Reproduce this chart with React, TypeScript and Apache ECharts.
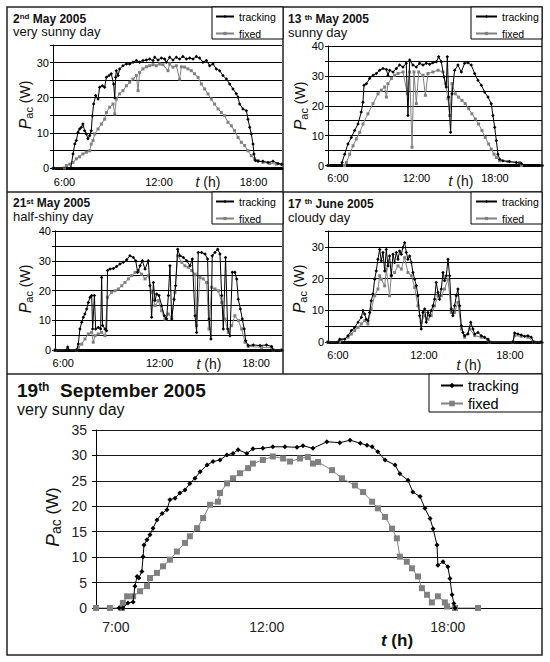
import React, { useEffect, useRef } from 'react';
import * as echarts from 'echarts';

const FONT = "'Liberation Sans', Arial, Helvetica, sans-serif";

const seriesNames = ['tracking', 'fixed'];
const smallHourTicks = [6, 12, 18];
const largeHourTicks = [7, 12, 18];

// 2nd May 2005 — very sunny day  [hour, W]
const may02Tracking: [number, number][] = [
  [5.3, 0], [6.4, 0], [6.54, 4.0], [6.65, 6.8], [6.75, 7.8], [6.86, 10.2], [6.96, 11.1], [7.07, 11.6], [7.17, 12.5],
  [7.28, 10.6], [7.39, 9.7], [7.49, 8.3], [7.6, 9.2], [7.7, 10.6], [7.77, 14.9], [7.85, 18.2], [7.98, 20.6], [8.13, 19.6],
  [8.23, 23.0], [8.4, 23.4], [8.55, 23.0], [8.66, 25.8], [8.83, 26.3], [8.97, 26.8], [9.12, 23.9], [9.19, 20.0], [9.25, 25.8],
  [9.29, 27.7], [9.4, 26.3], [9.5, 28.2], [9.71, 29.1], [9.93, 29.6], [10.14, 29.6], [10.35, 30.1], [10.56, 30.6], [10.77, 30.1],
  [10.98, 30.6], [11.2, 30.7], [11.41, 31.0], [11.62, 30.6], [11.73, 31.5], [11.94, 30.7], [12.15, 31.3], [12.36, 31.0],
  [12.47, 30.1], [12.68, 31.5], [12.89, 30.7], [13.1, 31.5], [13.31, 31.0], [13.52, 31.7], [13.74, 31.0], [13.95, 31.3],
  [14.16, 31.0], [14.37, 31.7], [14.58, 31.3], [14.79, 30.1], [15.01, 30.6], [15.22, 29.1], [15.43, 29.6], [15.64, 28.2],
  [15.85, 27.7], [16.06, 26.3], [16.28, 25.3], [16.49, 23.9], [16.7, 22.5], [16.91, 21.1], [17.02, 20.1], [17.12, 18.2],
  [17.33, 16.8], [17.55, 16.3], [17.65, 13.9], [17.76, 11.6], [17.86, 9.7], [17.97, 6.8], [18.03, 4.0], [18.12, 2.1],
  [18.29, 1.9], [18.6, 1.9], [18.92, 1.6], [19.24, 1.9], [19.56, 1.3], [19.8, 1.1],
];
const may02Fixed: [number, number][] = [
  [5.3, 0], [6.0, 0], [6.12, 0.7], [6.33, 1.1], [6.54, 1.6], [6.75, 2.6], [6.96, 3.2], [7.17, 4.0], [7.39, 4.5], [7.6, 4.9],
  [7.7, 6.8], [7.81, 7.8], [7.92, 9.7], [8.13, 11.1], [8.34, 12.5], [8.55, 13.9], [8.66, 15.8], [8.87, 17.3], [9.08, 18.2],
  [9.19, 15.4], [9.29, 19.6], [9.5, 21.1], [9.71, 22.0], [9.93, 23.4], [10.14, 24.4], [10.35, 25.3], [10.56, 26.3],
  [10.67, 22.0], [10.77, 27.2], [10.98, 28.2], [11.2, 28.8], [11.41, 29.1], [11.62, 29.4], [11.83, 29.1], [12.04, 29.6],
  [12.25, 29.4], [12.57, 27.7], [12.68, 29.6], [12.89, 28.7], [13.1, 29.1], [13.31, 25.3], [13.42, 28.8], [13.63, 28.7],
  [13.84, 28.2], [14.05, 27.7], [14.26, 26.8], [14.48, 25.8], [14.69, 23.9], [14.9, 22.5], [15.11, 21.1], [15.32, 19.6],
  [15.53, 18.2], [15.75, 16.8], [15.96, 15.8], [16.17, 14.9], [16.38, 13.0], [16.59, 12.0], [16.8, 10.6], [17.02, 8.7],
  [17.23, 7.3], [17.44, 6.4], [17.65, 4.9], [17.86, 3.5], [18.07, 2.6], [18.29, 2.1], [18.6, 1.6], [19.03, 1.3],
  [19.45, 1.1], [19.8, 0.9],
];

// 13th May 2005 — sunny day
const may13Tracking: [number, number][] = [
  [5.24, 0], [6.25, 0], [6.31, 1.0], [6.51, 3.8], [6.76, 7.2], [7.02, 9.4], [7.27, 11.7], [7.53, 13.9], [7.78, 17.9],
  [7.91, 21.2], [7.99, 26.9], [8.17, 27.4], [8.42, 29.1], [8.68, 30.2], [8.93, 30.8], [9.19, 31.9], [9.44, 32.5],
  [9.7, 32.1], [9.82, 30.2], [9.95, 31.9], [10.21, 31.3], [10.46, 32.5], [10.71, 33.6], [10.97, 33.0], [11.22, 34.2],
  [11.35, 16.7], [11.48, 35.3], [11.73, 33.6], [11.99, 33.0], [12.24, 34.2], [12.5, 33.6], [12.75, 34.2], [13.01, 33.9],
  [13.26, 34.4], [13.52, 34.7], [13.7, 36.4], [13.9, 34.7], [14.1, 29.7], [14.28, 26.3], [14.36, 36.4], [14.46, 22.9],
  [14.61, 11.1], [14.72, 24.0], [14.92, 31.9], [15.17, 33.6], [15.43, 31.3], [15.68, 34.2], [15.94, 34.4], [16.19, 33.6],
  [16.45, 30.8], [16.7, 28.5], [16.96, 26.9], [17.21, 24.6], [17.47, 22.9], [17.72, 20.7], [17.85, 16.7], [17.98, 12.8],
  [18.11, 8.3], [18.23, 3.8], [18.36, 2.1], [18.61, 1.6], [19.12, 1.3], [19.63, 1.0], [20.02, 0.7], [20.27, 0], [21.6, 0],
];
const may13Fixed: [number, number][] = [
  [5.24, 0], [6.5, 0], [6.64, 1.0], [6.89, 3.8], [7.15, 6.6], [7.4, 8.9], [7.66, 11.1], [7.91, 13.9], [8.29, 17.3],
  [8.68, 20.7], [9.06, 24.0], [9.31, 25.2], [9.57, 26.3], [9.7, 22.9], [9.82, 27.4], [10.08, 29.1], [10.33, 30.2],
  [10.59, 30.8], [10.97, 31.3], [11.3, 24.0], [11.48, 31.3], [11.66, 6.1], [11.81, 31.3], [11.99, 20.7], [12.17, 31.3],
  [12.5, 30.2], [12.68, 23.5], [12.88, 30.8], [13.26, 31.3], [13.65, 31.9], [14.03, 31.3], [14.21, 27.4], [14.41, 22.4],
  [14.54, 16.7], [14.72, 27.4], [14.97, 24.0], [15.22, 22.9], [15.48, 21.8], [15.73, 20.7], [15.99, 19.0], [16.24, 17.3],
  [16.5, 15.6], [16.75, 13.9], [17.01, 11.7], [17.26, 9.4], [17.52, 7.2], [17.72, 5.5], [17.93, 3.8], [18.11, 2.7],
  [18.36, 1.6], [19.0, 1.3], [19.89, 1.0], [20.02, 0], [21.6, 0],
];

// 21st May 2005 — half-shiny day
const may21Tracking: [number, number][] = [
  [5.5, 0], [6.2, 0], [6.28, 1.0], [6.35, 0], [6.84, 0], [6.94, 2.0], [7.04, 7.1], [7.15, 9.3], [7.25, 11.0], [7.35, 12.1],
  [7.46, 13.8], [7.56, 16.0], [7.67, 17.7], [7.77, 18.3], [7.83, 7.1], [7.94, 18.3], [8.02, 7.1], [8.18, 7.6], [8.33, 7.1],
  [8.39, 24.4], [8.45, 8.2], [8.6, 7.1], [8.7, 6.5], [8.76, 26.7], [8.91, 27.2], [9.12, 27.4], [9.32, 28.1], [9.53, 28.9],
  [9.74, 29.5], [9.95, 30.3], [10.15, 31.7], [10.36, 31.1], [10.51, 30.0], [10.63, 26.1], [10.78, 28.3], [10.92, 30.0],
  [11.09, 27.2], [11.29, 30.0], [11.4, 21.6], [11.5, 11.0], [11.61, 22.7], [11.71, 16.6], [11.81, 18.8], [11.96, 18.3],
  [12.12, 14.9], [12.29, 11.5], [12.43, 10.4], [12.54, 18.3], [12.64, 28.3], [12.75, 10.4], [12.89, 17.1], [12.99, 21.6],
  [13.12, 33.9], [13.26, 31.7], [13.47, 31.1], [13.68, 30.0], [13.89, 28.3], [14.03, 30.6], [14.2, 11.5], [14.3, 5.9],
  [14.4, 32.8], [14.61, 32.8], [14.82, 32.3], [14.98, 30.6], [15.07, 10.4], [15.19, 3.7], [15.27, 31.7], [15.44, 32.8],
  [15.61, 33.9], [15.75, 32.3], [15.86, 18.3], [15.96, 7.1], [16.1, 31.1], [16.23, 7.1], [16.37, 4.8], [16.52, 26.1],
  [16.68, 26.1], [16.79, 23.9], [16.89, 17.1], [17.02, 13.8], [17.14, 10.4], [17.26, 7.1], [17.35, 3.1], [17.51, 1.5],
  [17.82, 1.7], [18.24, 1.5], [18.65, 1.7], [18.96, 1.2], [19.07, 0], [19.6, 0],
];
const may21Fixed: [number, number][] = [
  [5.5, 0], [6.84, 0], [6.94, 0.9], [7.15, 2.0], [7.35, 3.7], [7.56, 5.4], [7.77, 5.9], [7.87, 2.6], [7.98, 4.8],
  [8.18, 5.4], [8.39, 5.9], [8.6, 4.8], [8.76, 17.7], [9.01, 19.4], [9.22, 19.9], [9.43, 20.5], [9.64, 21.6], [9.84, 22.7],
  [10.05, 23.9], [10.26, 25.0], [10.47, 26.1], [10.67, 26.7], [10.88, 25.5], [11.09, 23.9], [11.29, 25.0], [11.5, 19.4],
  [11.71, 14.9], [11.92, 16.6], [12.12, 13.2], [12.33, 10.4], [12.54, 12.1], [12.75, 11.0], [12.95, 19.4], [13.12, 31.7],
  [13.37, 29.5], [13.57, 28.3], [13.78, 27.8], [13.99, 26.7], [14.2, 25.5], [14.3, 8.2], [14.51, 24.4], [14.71, 23.9],
  [14.92, 22.7], [15.07, 7.1], [15.23, 21.1], [15.44, 20.5], [15.65, 19.9], [15.86, 16.0], [16.06, 10.4], [16.27, 5.9],
  [16.48, 8.2], [16.68, 11.5], [16.89, 9.9], [17.1, 7.1], [17.31, 2.6], [17.51, 1.2], [18.34, 0.9], [18.96, 0.9],
  [19.07, 0], [19.6, 0],
];

// 17th June 2005 — cloudy day
const jun17Tracking: [number, number][] = [
  [5.3, 0], [6.0, 0], [6.12, 0.9], [6.47, 0.9], [6.7, 2.0], [6.93, 3.6], [7.16, 4.6], [7.4, 6.2], [7.63, 7.8], [7.74, 9.9],
  [7.86, 8.8], [7.97, 7.2], [8.09, 6.7], [8.21, 9.3], [8.32, 13.0], [8.44, 15.1], [8.56, 19.8], [8.67, 22.4], [8.79, 26.1],
  [8.91, 29.2], [9.02, 25.6], [9.14, 28.2], [9.26, 22.4], [9.37, 29.2], [9.49, 24.0], [9.6, 27.1], [9.72, 20.9], [9.84, 27.7],
  [9.95, 25.1], [10.07, 28.2], [10.19, 26.1], [10.3, 28.7], [10.42, 27.7], [10.53, 29.8], [10.65, 31.3], [10.77, 28.2],
  [10.88, 26.1], [11.0, 27.1], [11.12, 25.1], [11.23, 21.9], [11.35, 19.8], [11.47, 17.7], [11.58, 14.6], [11.7, 8.3],
  [11.81, 4.1], [11.93, 9.3], [12.05, 10.4], [12.16, 6.2], [12.28, 9.3], [12.4, 8.3], [12.51, 9.9], [12.63, 11.4],
  [12.74, 13.5], [12.86, 18.8], [12.98, 15.6], [13.09, 13.5], [13.21, 16.7], [13.33, 21.9], [13.44, 19.3], [13.56, 20.9],
  [13.68, 26.1], [13.79, 20.9], [13.91, 10.4], [14.02, 8.3], [14.14, 11.4], [14.26, 14.6], [14.37, 16.7], [14.49, 11.4],
  [14.61, 5.1], [14.72, 3.0], [14.84, 2.0], [15.07, 2.5], [15.26, 6.2], [15.42, 4.1], [15.54, 2.5], [15.77, 3.0],
  [16.0, 2.0], [16.23, 1.5], [16.47, 0.9], [16.58, 0], [18.21, 0], [18.33, 2.8], [18.56, 2.5], [18.79, 2.2], [19.02, 1.8],
  [19.26, 2.0], [19.49, 1.5], [19.67, 0], [20.2, 0],
];
const jun17Fixed: [number, number][] = [
  [5.3, 0], [6.1, 0], [6.23, 0.7], [6.7, 1.5], [6.93, 2.5], [7.16, 3.6], [7.4, 4.6], [7.63, 5.7], [7.86, 6.7], [8.09, 5.7],
  [8.32, 10.4], [8.56, 14.6], [8.79, 16.7], [8.91, 20.9], [9.02, 19.8], [9.26, 17.7], [9.37, 23.0], [9.6, 14.6],
  [9.72, 20.9], [9.95, 21.9], [10.19, 24.0], [10.42, 23.0], [10.65, 26.6], [10.88, 21.9], [11.12, 20.9], [11.35, 17.2],
  [11.58, 11.4], [11.81, 6.2], [12.05, 8.3], [12.28, 7.2], [12.51, 8.3], [12.74, 11.4], [12.98, 14.6], [13.21, 14.6],
  [13.44, 16.7], [13.68, 19.8], [13.91, 9.3], [14.14, 9.3], [14.37, 12.5], [14.61, 4.1], [14.84, 1.5], [15.19, 4.1],
  [15.54, 2.0], [16.0, 1.5], [16.47, 0.7], [16.58, 0], [18.21, 0], [18.33, 2.0], [18.79, 1.8], [19.26, 1.5], [19.67, 0],
  [20.2, 0],
];

// 19th September 2005 — very sunny day
const sep19Tracking: [number, number][] = [
  [7.1, 0], [7.23, 0], [7.4, 1.0], [7.57, 1.2], [7.63, 4.3], [7.7, 6.2], [7.76, 5.9], [7.86, 7.2], [7.9, 10.1], [7.93, 12.4],
  [8.03, 13.4], [8.13, 14.4], [8.23, 15.7], [8.36, 17.3], [8.53, 18.6], [8.69, 19.3], [8.79, 21.3], [8.96, 21.6],
  [9.12, 22.6], [9.29, 23.2], [9.45, 24.5], [9.62, 25.5], [9.79, 26.8], [10.02, 28.1], [10.22, 28.8], [10.45, 29.1],
  [10.68, 30.1], [10.88, 30.4], [11.05, 31.1], [11.34, 30.4], [11.54, 31.3], [11.87, 31.4], [12.2, 31.7], [12.6, 31.7],
  [13.0, 31.6], [13.2, 31.9], [13.53, 31.4], [13.99, 32.7], [14.42, 32.5], [14.76, 33.0], [15.1, 32.4], [15.32, 32.0],
  [15.49, 31.7], [15.68, 30.7], [15.92, 29.1], [16.25, 28.1], [16.41, 26.4], [16.68, 25.1], [16.84, 22.8], [17.08, 21.9],
  [17.24, 19.6], [17.41, 17.6], [17.51, 15.6], [17.64, 12.4], [17.67, 8.4], [17.84, 9.1], [18.0, 8.1], [18.07, 5.8],
  [18.14, 2.6], [18.2, 0.9], [18.24, 0],
];
const sep19Fixed: [number, number][] = [
  [6.34, 0], [6.8, 0], [7.2, 0], [7.23, 1.0], [7.37, 2.3], [7.57, 2.3], [7.8, 3.3], [8.03, 4.3], [8.13, 5.9], [8.36, 6.9],
  [8.56, 8.2], [8.79, 9.5], [9.02, 11.1], [9.29, 12.8], [9.45, 14.1], [9.69, 15.7], [9.89, 17.7], [10.12, 20.3],
  [10.38, 20.9], [10.45, 22.6], [10.68, 24.5], [10.88, 25.5], [11.11, 26.5], [11.38, 27.5], [11.54, 28.4], [11.87, 29.1],
  [12.2, 29.8], [12.54, 29.4], [12.77, 28.8], [13.1, 29.4], [13.36, 29.7], [13.53, 28.4], [13.7, 28.7], [14.16, 27.1],
  [14.49, 25.5], [14.92, 24.1], [15.19, 22.8], [15.49, 20.9], [15.68, 19.6], [15.92, 17.9], [16.15, 15.6], [16.31, 13.7],
  [16.41, 10.1], [16.64, 9.1], [16.81, 7.8], [17.01, 6.2], [17.14, 3.9], [17.31, 2.6], [17.47, 1.1], [17.67, 2.3],
  [17.9, 1.1], [17.97, 0.3], [18.24, 0], [19.0, 0],
];

type Panel = {
  grid: { left: number; top: number; width: number; height: number };
  xMin: number; xMax: number; yMax: number;
  tracking: [number, number][]; fixed: [number, number][];
  big: boolean; hourTicks: number[]; labelMargin: number;
};

const panels: Panel[] = [
  { grid: { left: 53, top: 45, width: 229, height: 123 }, xMin: 5.27, xMax: 19.81, yMax: 35, tracking: may02Tracking, fixed: may02Fixed, big: false, hourTicks: smallHourTicks, labelMargin: 8 },
  { grid: { left: 328, top: 46, width: 214, height: 119.5 }, xMin: 5.235, xMax: 21.6, yMax: 40, tracking: may13Tracking, fixed: may13Fixed, big: false, hourTicks: smallHourTicks, labelMargin: 7 },
  { grid: { left: 55, top: 231, width: 227, height: 119 }, xMin: 5.489, xMax: 19.61, yMax: 40, tracking: may21Tracking, fixed: may21Fixed, big: false, hourTicks: smallHourTicks, labelMargin: 7 },
  { grid: { left: 328, top: 231, width: 214, height: 111 }, xMin: 5.302, xMax: 20.24, yMax: 35, tracking: jun17Tracking, fixed: jun17Fixed, big: false, hourTicks: smallHourTicks, labelMargin: 7 },
  { grid: { left: 96, top: 430, width: 446, height: 178 }, xMin: 6.34, xMax: 21.12, yMax: 35, tracking: sep19Tracking, fixed: sep19Fixed, big: true, hourTicks: largeHourTicks, labelMargin: 12 },
];

const titles = [
  { x: 13, y: 18.5, num: '2', sup: 'nd', rest: ' May 2005', sub: 'very sunny day', subY: 31.5, big: false },
  { x: 288, y: 19, num: '13 ', sup: 'th', rest: ' May 2005', sub: 'sunny day', subY: 32, big: false },
  { x: 13, y: 203, num: '21', sup: 'st', rest: ' May 2005', sub: 'half-shiny day', subY: 216.5, big: false },
  { x: 288, y: 203.5, num: '17 ', sup: 'th', rest: ' June 2005', sub: 'cloudy day', subY: 217, big: false },
  { x: 17, y: 390, num: '19', sup: 'th', rest: '  September 2005', sub: 'very sunny day', subY: 409, big: true },
];

const yTitles = [
  { x: 25, y: 105, size: 14 },
  { x: 300, y: 106, size: 14 },
  { x: 25, y: 289, size: 14 },
  { x: 299, y: 289, size: 14 },
  { x: 52, y: 517, size: 17 },
];
const xTitles = [
  { x: 208, y: 182, size: 14, bold: false },
  { x: 461, y: 181, size: 14, bold: false },
  { x: 209, y: 364, size: 14, bold: false },
  { x: 469, y: 365, size: 14, bold: false },
  { x: 397, y: 640, size: 17, bold: true },
];
const legendBoxes = [
  { x: 212, y: 7, w: 71, h: 32, left: 215, top: 11, iw: 18, ih: 4, lh: 10, gap: 6, fs: 10.5 },
  { x: 471, y: 7, w: 71, h: 32, left: 475, top: 11, iw: 21, ih: 4, lh: 10, gap: 6, fs: 10.5 },
  { x: 212, y: 192, w: 71, h: 32, left: 215, top: 196, iw: 18, ih: 4, lh: 10, gap: 6, fs: 10.5 },
  { x: 471, y: 192, w: 71, h: 32, left: 475, top: 196, iw: 21, ih: 4, lh: 10, gap: 6, fs: 10.5 },
  { x: 429, y: 374, w: 113, h: 38, left: 440, top: 378, iw: 22, ih: 7, lh: 14, gap: 3, fs: 14.5 },
];

function buildOption() {
  const grid = panels.map((p) => ({ ...p.grid, containLabel: false }));
  const xAxis = panels.map((p, i) => ({
    type: 'value',
    gridIndex: i,
    min: p.xMin,
    max: p.xMax,
    axisLine: { onZero: false, lineStyle: { color: '#000', width: p.big ? 1 : 3 } },
    axisTick: { show: false },
    splitLine: { show: false },
    axisLabel: {
      customValues: p.hourTicks,
      formatter: (v: number) => `${Math.round(v)}:00`,
      fontFamily: FONT,
      fontSize: p.big ? 14 : 11,
      color: p.big ? '#222' : '#000',
      margin: p.labelMargin,
    },
  }));
  const yAxis = panels.map((p, i) => ({
    type: 'value',
    gridIndex: i,
    min: 0,
    max: p.yMax,
    interval: 5,
    axisLine: { show: true, lineStyle: { color: '#000', width: 1 } },
    axisTick: { show: true, length: p.big ? 4 : 3, lineStyle: { color: '#000' } },
    splitLine: { show: true, lineStyle: { color: '#000', width: p.big ? 0.9 : 1 } },
    axisLabel: {
      formatter: (v: number) => (p.big || v % 10 === 0 ? String(v) : ''),
      fontFamily: FONT,
      fontSize: p.big ? 14 : 11,
      color: p.big ? '#222' : '#000',
      margin: p.big ? 9 : 4,
    },
  }));
  const series: any[] = [];
  panels.forEach((p, i) => {
    series.push({
      type: 'line', name: 'fixed', data: p.fixed, xAxisIndex: i, yAxisIndex: i,
      symbol: 'rect', symbolSize: p.big ? 6 : 3, showSymbol: true,
      lineStyle: { color: '#808080', width: 1 }, itemStyle: { color: '#808080' },
      z: 2, silent: true,
    });
    series.push({
      type: 'line', name: 'tracking', data: p.tracking, xAxisIndex: i, yAxisIndex: i,
      symbol: 'diamond', symbolSize: p.big ? 5 : 3.5, showSymbol: true,
      lineStyle: { color: '#000', width: 1 }, itemStyle: { color: '#000' },
      z: 3, silent: true,
    });
  });
  const legend = legendBoxes.map((b) => ({
    data: seriesNames,
    orient: 'vertical',
    left: b.left,
    top: b.top,
    padding: 0,
    itemWidth: b.iw,
    itemHeight: b.ih,
    itemGap: b.gap,
    selectedMode: false,
    textStyle: { fontFamily: FONT, fontSize: b.fs, color: '#000', lineHeight: b.lh },
  }));

  const graphic: any[] = [];
  graphic.push({ type: 'rect', shape: { x: 7, y: 7, width: 535, height: 648 }, style: { fill: 'none', stroke: '#222', lineWidth: 1.5 } });
  graphic.push({ type: 'line', shape: { x1: 283, y1: 7, x2: 283, y2: 374 }, style: { stroke: '#222', lineWidth: 1.5 } });
  graphic.push({ type: 'line', shape: { x1: 7, y1: 192, x2: 542, y2: 192 }, style: { stroke: '#222', lineWidth: 1.5 } });
  graphic.push({ type: 'line', shape: { x1: 7, y1: 374, x2: 542, y2: 374 }, style: { stroke: '#222', lineWidth: 1.5 } });
  legendBoxes.forEach((b) => {
    graphic.push({ type: 'rect', shape: { x: b.x, y: b.y, width: b.w, height: b.h }, style: { fill: '#fff', stroke: '#000', lineWidth: 1 } });
  });
  titles.forEach((t) => {
    const fs = t.big ? 19 : 12;
    const ss = t.big ? 12 : 8;
    graphic.push({
      type: 'text', x: t.x, y: t.y,
      style: {
        text: `{b|${t.num}}{s|${t.sup}}{b|${t.rest}}`,
        x: 0, y: 0, align: 'left', verticalAlign: 'middle',
        fontFamily: FONT, fill: '#000',
        rich: {
          b: { fontFamily: FONT, fontSize: fs, fontWeight: 'bold', lineHeight: fs, fill: '#111' },
          s: { fontFamily: FONT, fontSize: ss, fontWeight: 'bold', lineHeight: ss, verticalAlign: 'top', fill: '#111' },
        },
      },
    });
    graphic.push({
      type: 'text', x: t.x, y: t.subY,
      style: {
        text: t.sub, x: 0, y: 0, align: 'left', verticalAlign: 'middle',
        fontFamily: FONT, fontSize: t.big ? 16 : 13, lineHeight: t.big ? 16 : 13, fill: '#111',
      },
    });
  });
  yTitles.forEach((t) => {
    graphic.push({
      type: 'text', x: t.x, y: t.y, rotation: Math.PI / 2,
      style: {
        text: '{i|P}{s|ac}{n| (W)}', x: 0, y: 0, align: 'center', verticalAlign: 'middle',
        fontFamily: FONT, fill: '#111',
        rich: {
          i: { fontFamily: FONT, fontSize: t.size + 2, fontStyle: 'italic', lineHeight: t.size + 4, fill: '#111' },
          s: { fontFamily: FONT, fontSize: t.size - 3, lineHeight: t.size - 3, verticalAlign: 'bottom', fill: '#111' },
          n: { fontFamily: FONT, fontSize: t.size, lineHeight: t.size + 4, fill: '#111' },
        },
      },
    });
  });
  xTitles.forEach((t) => {
    graphic.push({
      type: 'text', x: t.x, y: t.y,
      style: {
        text: '{i|t}{n| (h)}', x: 0, y: 0, align: 'center', verticalAlign: 'middle',
        fontFamily: FONT, fill: '#111',
        rich: {
          i: { fontFamily: FONT, fontSize: t.size, fontStyle: 'italic', fontWeight: t.bold ? 'bold' : 'normal', fill: '#111' },
          n: { fontFamily: FONT, fontSize: t.size, fontWeight: t.bold ? 'bold' : 'normal', fill: '#111' },
        },
      },
    });
  });

  return {
    animation: false,
    backgroundColor: '#fff',
    textStyle: { fontFamily: FONT },
    grid, xAxis, yAxis, series, legend, graphic,
  };
}

export default function App() {
  const ref = useRef<HTMLDivElement>(null);
  useEffect(() => {
    if (!ref.current) return;
    const chart = echarts.init(ref.current, undefined, { renderer: 'svg' });
    chart.setOption(buildOption() as any);
    return () => chart.dispose();
  }, []);
  return (
    <div
      ref={ref}
      style={{ position: 'absolute', left: 0, top: 0, width: 550, height: 662, background: '#fff' }}
    />
  );
}
